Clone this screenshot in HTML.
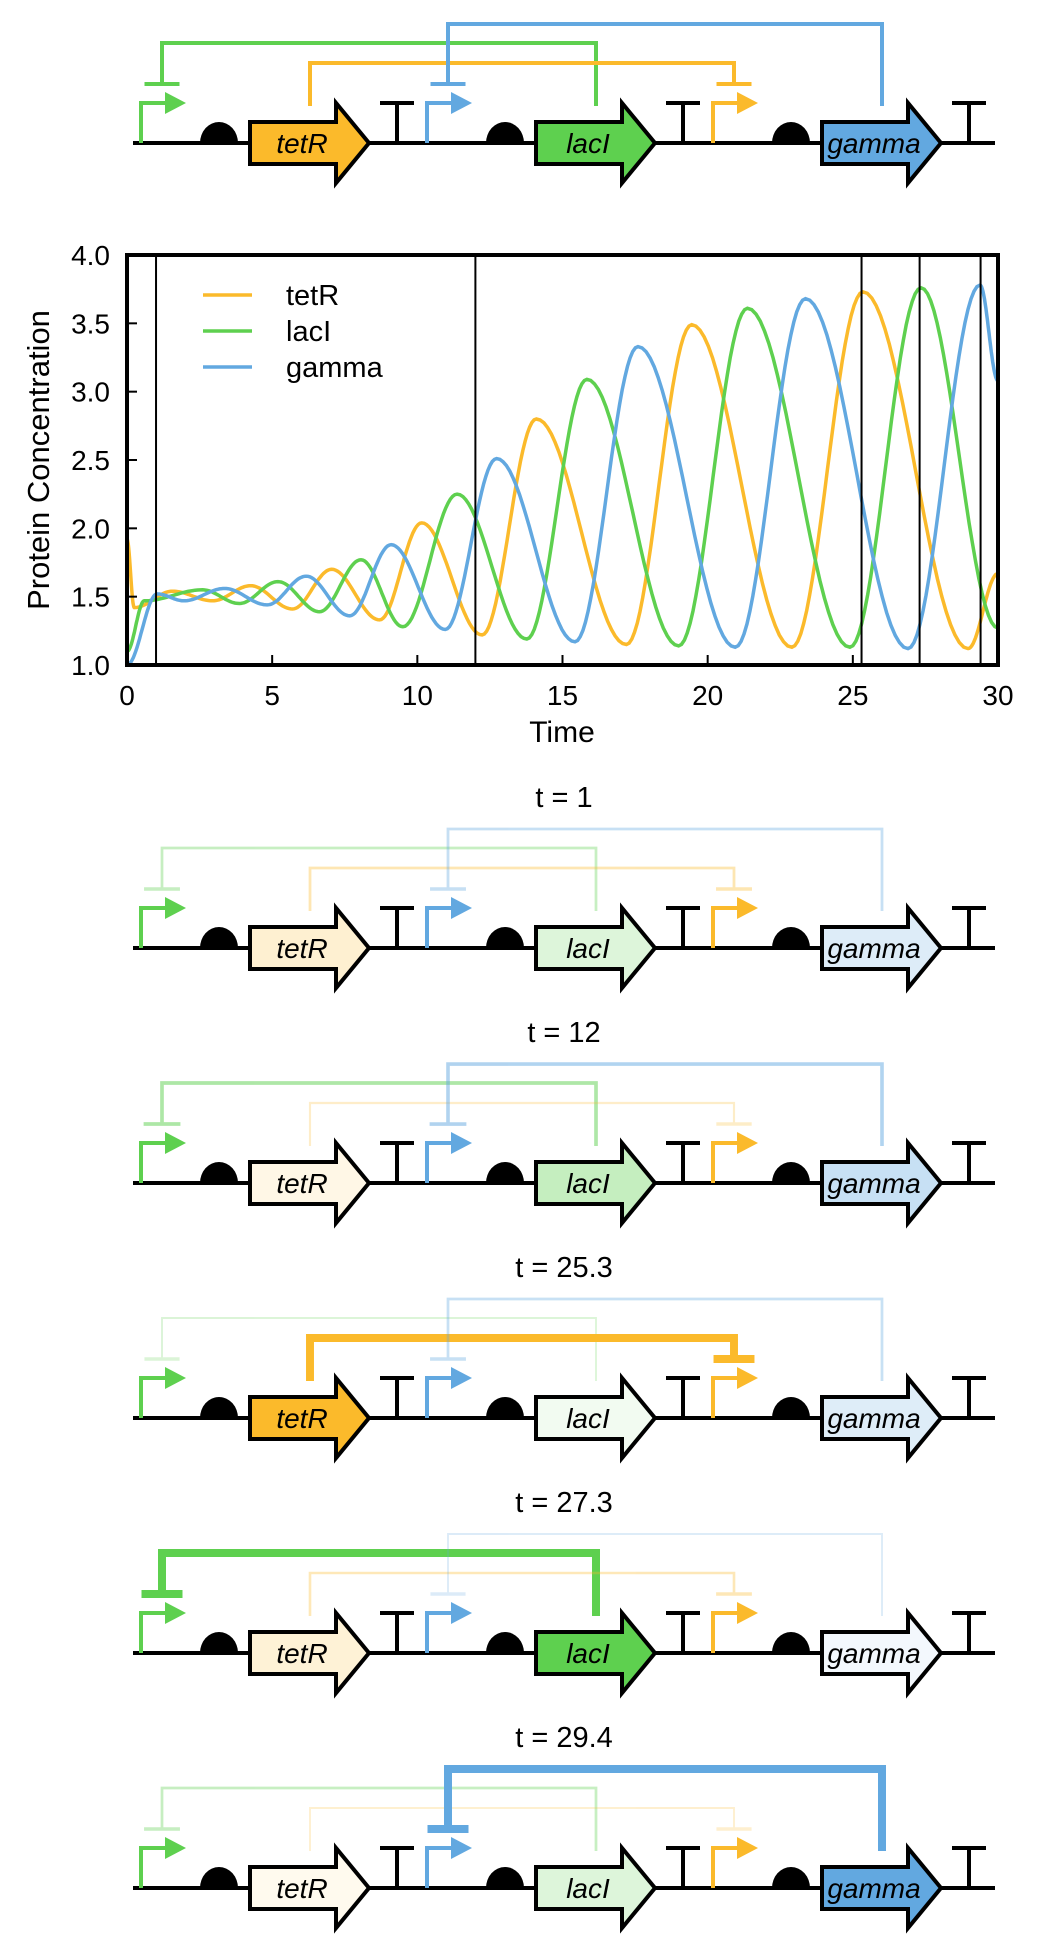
<!DOCTYPE html>
<html><head><meta charset="utf-8">
<style>
html,body{margin:0;padding:0;background:#fff;}
svg{display:block;font-family:"Liberation Sans",Arial,sans-serif;}
</style></head>
<body>
<svg id="fig" width="1050" height="1950" viewBox="0 0 1050 1950" xmlns="http://www.w3.org/2000/svg"></svg>
<script>
// ---- chart data (extrema) ----
const tetRTimes = [0, 0.25, 1.57, 2.95, 4.26, 5.7, 7.05, 8.7, 10.15, 12.23, 14.1, 17.2, 19.45, 22.9, 25.35, 28.97, 30];
const tetRVals  = [1.92, 1.42, 1.54, 1.47, 1.58, 1.41, 1.70, 1.33, 2.04, 1.22, 2.80, 1.15, 3.49, 1.13, 3.73, 1.12, 1.67];
const lacITimes = [0, 0.6, 2.6, 3.87, 5.2, 6.63, 8.06, 9.5, 11.37, 13.77, 15.84, 19.0, 21.37, 24.9, 27.35, 30];
const lacIVals  = [1.1, 1.47, 1.55, 1.45, 1.61, 1.39, 1.77, 1.28, 2.25, 1.19, 3.09, 1.14, 3.61, 1.13, 3.76, 1.27];
const gammaTimes = [0, 1.04, 1.96, 3.36, 4.83, 6.17, 7.67, 9.1, 10.96, 12.73, 15.43, 17.6, 20.95, 23.37, 26.9, 29.38, 30];
const gammaVals  = [1.0, 1.52, 1.47, 1.56, 1.44, 1.65, 1.36, 1.88, 1.26, 2.51, 1.17, 3.33, 1.13, 3.68, 1.12, 3.78, 3.08];
const xTicks = [0, 5, 10, 15, 20, 25, 30];
const yTicks = [1.0, 1.5, 2.0, 2.5, 3.0, 3.5, 4.0];
const markTimes = [1, 12, 25.3, 27.3, 29.4];
// concentrations at each snapshot time
const snapTitles = ["t = 1", "t = 12", "t = 25.3", "t = 27.3", "t = 29.4"];
const tetRAt  = [1.52, 1.25, 3.73, 1.45, 1.15];
const lacIAt  = [1.50, 1.90, 1.15, 3.75, 1.50];
const gammaAt = [1.52, 1.88, 1.50, 1.15, 3.75];

const NS = "http://www.w3.org/2000/svg";
const svg = document.getElementById('fig');
function el(tag, attrs, parent) {
  const e = document.createElementNS(NS, tag);
  for (const k in attrs) e.setAttribute(k, attrs[k]);
  (parent || svg).appendChild(e);
  return e;
}
const COL = {tetR: "#FBBA2B", lacI: "#5ED04F", gamma: "#62A8E0"};

// ---- chart ----
const PX0 = 127, PX1 = 998, PY0 = 255, PY1 = 665;
const xs = t => PX0 + (t / 30) * (PX1 - PX0);
const ys = v => PY1 - ((v - 1) / 3) * (PY1 - PY0);
const chart = el('g', {});



function seriesPath(times, vals) {
  let d = `M${xs(times[0]).toFixed(1)},${ys(vals[0]).toFixed(1)}`;
  for (let i = 0; i < times.length - 1; i++) {
    const t0 = times[i], t1 = times[i + 1], v0 = vals[i], v1 = vals[i + 1];
    const n = 24;
    for (let k = 1; k <= n; k++) {
      const f = k / n;
      const t = t0 + (t1 - t0) * f;
      const v = v0 + (v1 - v0) * (1 - Math.cos(Math.PI * f)) / 2;
      d += `L${xs(t).toFixed(1)},${ys(v).toFixed(1)}`;
    }
  }
  return d;
}
const clip = el('clipPath', {id: 'plotclip'}, chart);
el('rect', {x: PX0, y: PY0, width: PX1 - PX0, height: PY1 - PY0}, clip);
const series = [["tetR", tetRTimes, tetRVals], ["lacI", lacITimes, lacIVals], ["gamma", gammaTimes, gammaVals]];
series.forEach(s => {
  const p = el('path', {d: seriesPath(s[1], s[2]), fill: 'none', stroke: COL[s[0]], 'stroke-width': 3.5, 'clip-path': 'url(#plotclip)'}, chart);
  
  
});
markTimes.forEach(t => {
  const l = el('line', {x1: xs(t), x2: xs(t), y1: PY0, y2: PY1, stroke: '#000', 'stroke-width': 2}, chart);
  
  
});
xTicks.forEach(t => {
  el('line', {x1: xs(t), x2: xs(t), y1: PY1, y2: PY1 - 10, stroke: '#000', 'stroke-width': 2}, chart);
  const tx = el('text', {x: xs(t), y: 705, 'font-size': 28, 'text-anchor': 'middle', fill: '#000'}, chart);
  tx.textContent = t;
  
  
});
yTicks.forEach(v => {
  el('line', {x1: PX0, x2: PX0 + 10, y1: ys(v), y2: ys(v), stroke: '#000', 'stroke-width': 2}, chart);
  const tx = el('text', {x: 110, y: ys(v) + 10, 'font-size': 28, 'text-anchor': 'end', fill: '#000'}, chart);
  tx.textContent = v.toFixed(1);
  
  
});
const frame = el('rect', {x: PX0, y: PY0, width: PX1 - PX0, height: PY1 - PY0, fill: 'none', stroke: '#000', 'stroke-width': 4}, chart);


const xt = el('text', {x: 562, y: 742, 'font-size': 30, 'text-anchor': 'middle'}, chart);
xt.textContent = 'Time';


const yt = el('text', {x: 0, y: 0, 'font-size': 31, 'text-anchor': 'middle', transform: 'translate(49,460) rotate(-90)'}, chart);
yt.textContent = 'Protein Concentration';


[["tetR", 295], ["lacI", 331], ["gamma", 367]].forEach(e => {
  const g = el('g', {}, chart);
  
  
  el('line', {x1: 203, x2: 252, y1: e[1], y2: e[1], stroke: COL[e[0]], 'stroke-width': 3.5}, g);
  const t = el('text', {x: 286, y: e[1] + 10, 'font-size': 29}, g);
  t.textContent = e[0];
});

// ---- genetic circuit diagrams ----
const VMIN = 1.1, VMAX = 3.75;
function level(v) { return Math.max(0, Math.min(1, (v - VMIN) / (VMAX - VMIN))); }
function hexMix(hex, a) {
  const n = parseInt(hex.slice(1), 16);
  const c = [(n >> 16) & 255, (n >> 8) & 255, n & 255].map(x => Math.round(255 - (255 - x) * a));
  return `rgb(${c[0]},${c[1]},${c[2]})`;
}
const order = ["tetR", "lacI", "gamma"];
const promColor = ["lacI", "gamma", "tetR"];
function drawCircuit(y, name, levels, full) {
  const g = el('g', {});
  
  
  const bb = el('line', {x1: 133, x2: 995, y1: y, y2: y, stroke: '#000', 'stroke-width': 4}, g);
  
  
  const sty = {};
  order.forEach(p => {
    const r = levels[p];
    sty[p] = full ? {w: 4, a: 1, fill: COL[p]} :
      {w: 1.8 + 6.2 * r, a: Math.min(1, 0.2 + r), fill: hexMix(COL[p], Math.min(1, 0.06 + r))};
  });
  const links = [["lacI", 1, 0, 100], ["tetR", 0, 2, 80], ["gamma", 2, 1, 119]];
  links.forEach(L => {
    const s = sty[L[0]];
    const gx = 141 + 286 * L[1] + 109 + 60;
    const px = 141 + 286 * L[2] + 21;
    const lk = el('g', {opacity: s.a}, g);
    
    
    el('path', {d: `M${gx},${y - 37} L${gx},${y - L[3]} L${px},${y - L[3]} L${px},${y - 59}`, fill: 'none', stroke: COL[L[0]], 'stroke-width': s.w, 'stroke-linejoin': 'miter', 'stroke-linecap': 'butt'}, lk);
    const bw = 35 + 6 * (full ? 0 : levels[L[0]]);
    el('line', {x1: px - bw / 2, x2: px + bw / 2, y1: y - 59, y2: y - 59, stroke: COL[L[0]], 'stroke-width': Math.max(3.5, s.w)}, lk);
  });
  for (let i = 0; i < 3; i++) {
    const b = 141 + 286 * i;
    const p = order[i];
    const pr = el('path', {d: `M${b},${y} L${b},${y - 40} L${b + 25},${y - 40}`, fill: 'none', stroke: COL[promColor[i]], 'stroke-width': 4}, g);
    
    
    el('path', {d: `M${b + 24},${y - 51} L${b + 45},${y - 40} L${b + 24},${y - 29} Z`, fill: COL[promColor[i]]}, g);
    const rbs = el('path', {d: `M${b + 59},${y} A19,21 0 0 1 ${b + 97},${y} Z`, fill: '#000'}, g);
    
    
    const gs = b + 109;
    const gene = el('path', {d: `M${gs},${y - 21} L${gs + 86},${y - 21} L${gs + 86},${y - 40} L${gs + 119},${y} L${gs + 86},${y + 40} L${gs + 86},${y + 21} L${gs},${y + 21} Z`, fill: sty[p].fill, stroke: '#000', 'stroke-width': 4, 'stroke-linejoin': 'miter'}, g);
    
    
    const gt = el('text', {x: gs + 52, y: y + 10, 'font-size': 28, 'font-style': 'italic', 'text-anchor': 'middle'}, g);
    gt.textContent = p;
    const tx = b + 256;
    const term = el('path', {d: `M${tx},${y} L${tx},${y - 40} M${tx - 17},${y - 40} L${tx + 17},${y - 40}`, fill: 'none', stroke: '#000', 'stroke-width': 4}, g);
    
    
  }
}
drawCircuit(143, 'circuit-diagram-top', {tetR: 1, lacI: 1, gamma: 1}, true);
snapTitles.forEach((tt, i) => {
  const y = 948 + 235 * i;
  const t = el('text', {x: 564, y: y - 141, 'font-size': 29, 'text-anchor': 'middle'});
  t.textContent = tt;
  
  
  drawCircuit(y, 'circuit-snapshot-' + (i + 1), {tetR: level(tetRAt[i]), lacI: level(lacIAt[i]), gamma: level(gammaAt[i])}, false);
});
</script>
</body></html>
